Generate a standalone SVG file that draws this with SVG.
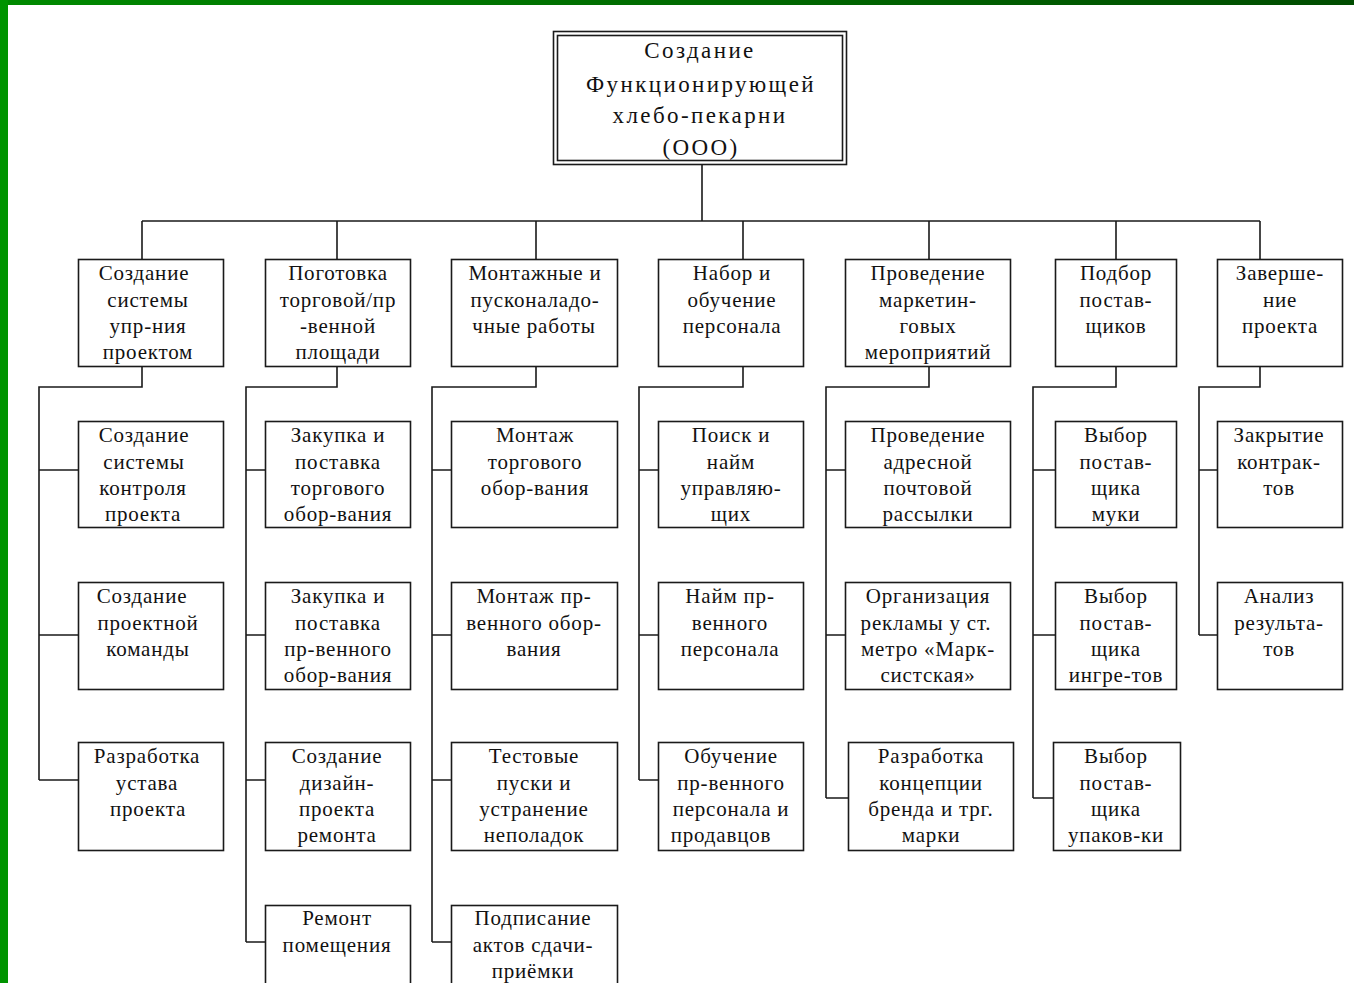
<svg xmlns="http://www.w3.org/2000/svg" width="1354" height="983" viewBox="0 0 1354 983">
<defs>
<linearGradient id="gtop" x1="0" y1="0" x2="1" y2="0">
<stop offset="0" stop-color="#008a00"/>
<stop offset="1" stop-color="#004c00"/>
</linearGradient>
<style>
.b{fill:#fff;stroke:#1a1a1a;stroke-width:1.6}
.c{fill:none;stroke:#1a1a1a;stroke-width:1.6}
text{font-family:"Liberation Serif","DejaVu Serif",serif;font-size:21px;fill:#111;text-anchor:middle;letter-spacing:0.8px}
.r{font-size:23px;letter-spacing:2.4px}
</style>
</defs>
<rect x="0" y="0" width="1354" height="983" fill="#fff"/>
<rect x="0" y="0" width="1354" height="5" fill="url(#gtop)"/>
<rect x="0" y="0" width="8" height="983" fill="#009400"/>

<g id="connectors">
<path class="c" d="M702 164V221M142 221H1260M142 221V259M337 221V259M536 221V259M743 221V259M929 221V259M1116 221V259M1260 221V259"/>
<path class="c" d="M142 366V387H39V780M39 470H78M39 635H78M39 780H78"/>
<path class="c" d="M337 366V387H246V942M246 470H265M246 635H265M246 780H265M246 942H265"/>
<path class="c" d="M536 366V387H432V942M432 470H451M432 635H451M432 780H451M432 942H451"/>
<path class="c" d="M743 366V387H639V780M639 470H658M639 635H658M639 780H658"/>
<path class="c" d="M929 366V387H826V798M826 470H845M826 635H845M826 798H848"/>
<path class="c" d="M1116 366V387H1033V798M1033 470H1055M1033 635H1055M1033 798H1053"/>
<path class="c" d="M1260 366V387H1199V635M1199 470H1217M1199 635H1217"/>
</g>

<g id="root">
<rect class="b" x="553.5" y="31.5" width="293" height="133"/>
<rect class="c" x="557.5" y="35.5" width="285" height="125"/>
<text class="r" x="700" y="58">Создание</text>
<text class="r" x="701" y="92">Функционирующей</text>
<text class="r" x="700" y="123">хлебо-пекарни</text>
<text class="r" x="701" y="155">(ООО)</text>
</g>

<g id="n1">
<rect class="b" x="78.5" y="259.5" width="145" height="107"/>
<text x="144" y="280">Создание</text><text x="148" y="307">системы</text><text x="148" y="333">упр-ния</text><text x="148" y="359">проектом</text>
</g>
<g id="n2">
<rect class="b" x="265.5" y="259.5" width="145" height="107"/>
<text x="338" y="280">Поготовка</text><text x="338" y="307">торговой/пр</text><text x="338" y="333">-венной</text><text x="338" y="359">площади</text>
</g>
<g id="n3">
<rect class="b" x="451.5" y="259.5" width="166" height="107"/>
<text x="535" y="280">Монтажные и</text><text x="535" y="307">пусконаладо-</text><text x="534" y="333">чные работы</text>
</g>
<g id="n4">
<rect class="b" x="658.5" y="259.5" width="145" height="107"/>
<text x="732" y="280">Набор и</text><text x="732" y="307">обучение</text><text x="732" y="333">персонала</text>
</g>
<g id="n5">
<rect class="b" x="845.5" y="259.5" width="165" height="107"/>
<text x="928" y="280">Проведение</text><text x="928" y="307">маркетин-</text><text x="928" y="333">говых</text><text x="928" y="359">мероприятий</text>
</g>
<g id="n6">
<rect class="b" x="1055.5" y="259.5" width="121" height="107"/>
<text x="1116" y="280">Подбор</text><text x="1116" y="307">постав-</text><text x="1116" y="333">щиков</text>
</g>
<g id="n7">
<rect class="b" x="1217.5" y="259.5" width="125" height="107"/>
<text x="1280" y="280">Заверше-</text><text x="1280" y="307">ние</text><text x="1280" y="333">проекта</text>
</g>

<g id="n1a">
<rect class="b" x="78.5" y="421.5" width="145" height="106"/>
<text x="144" y="442">Создание</text><text x="144" y="469">системы</text><text x="143" y="495">контроля</text><text x="143" y="521">проекта</text>
</g>
<g id="n1b">
<rect class="b" x="78.5" y="582.5" width="145" height="107"/>
<text x="142" y="603">Создание</text><text x="148" y="630">проектной</text><text x="148" y="656">команды</text>
</g>
<g id="n1c">
<rect class="b" x="78.5" y="742.5" width="145" height="108"/>
<text x="147" y="763">Разработка</text><text x="147" y="790">устава</text><text x="148" y="816">проекта</text>
</g>

<g id="n2a">
<rect class="b" x="265.5" y="421.5" width="145" height="106"/>
<text x="338" y="442">Закупка и</text><text x="338" y="469">поставка</text><text x="338" y="495">торгового</text><text x="338" y="521">обор-вания</text>
</g>
<g id="n2b">
<rect class="b" x="265.5" y="582.5" width="145" height="107"/>
<text x="338" y="603">Закупка и</text><text x="338" y="630">поставка</text><text x="338" y="656">пр-венного</text><text x="338" y="682">обор-вания</text>
</g>
<g id="n2c">
<rect class="b" x="265.5" y="742.5" width="145" height="108"/>
<text x="337" y="763">Создание</text><text x="337" y="790">дизайн-</text><text x="337" y="816">проекта</text><text x="337" y="842">ремонта</text>
</g>
<g id="n2d">
<rect class="b" x="265.5" y="905.5" width="145" height="90"/>
<text x="337" y="925">Ремонт</text><text x="337" y="952">помещения</text>
</g>

<g id="n3a">
<rect class="b" x="451.5" y="421.5" width="166" height="106"/>
<text x="535" y="442">Монтаж</text><text x="535" y="469">торгового</text><text x="535" y="495">обор-вания</text>
</g>
<g id="n3b">
<rect class="b" x="451.5" y="582.5" width="166" height="107"/>
<text x="534" y="603">Монтаж пр-</text><text x="534" y="630">венного обор-</text><text x="534" y="656">вания</text>
</g>
<g id="n3c">
<rect class="b" x="451.5" y="742.5" width="166" height="108"/>
<text x="534" y="763">Тестовые</text><text x="534" y="790">пуски и</text><text x="534" y="816">устранение</text><text x="534" y="842">неполадок</text>
</g>
<g id="n3d">
<rect class="b" x="451.5" y="905.5" width="166" height="90"/>
<text x="533" y="925">Подписание</text><text x="533" y="952">актов сдачи-</text><text x="533" y="978">приёмки</text>
</g>

<g id="n4a">
<rect class="b" x="658.5" y="421.5" width="145" height="106"/>
<text x="731" y="442">Поиск и</text><text x="731" y="469">найм</text><text x="731" y="495">управляю-</text><text x="731" y="521">щих</text>
</g>
<g id="n4b">
<rect class="b" x="658.5" y="582.5" width="145" height="107"/>
<text x="730" y="603">Найм пр-</text><text x="730" y="630">венного</text><text x="730" y="656">персонала</text>
</g>
<g id="n4c">
<rect class="b" x="658.5" y="742.5" width="145" height="108"/>
<text x="731" y="763">Обучение</text><text x="731" y="790">пр-венного</text><text x="731" y="816">персонала и</text><text x="721" y="842">продавцов</text>
</g>

<g id="n5a">
<rect class="b" x="845.5" y="421.5" width="165" height="106"/>
<text x="928" y="442">Проведение</text><text x="928" y="469">адресной</text><text x="928" y="495">почтовой</text><text x="928" y="521">рассылки</text>
</g>
<g id="n5b">
<rect class="b" x="845.5" y="582.5" width="165" height="107"/>
<text x="928" y="603">Организация</text><text x="926" y="630">рекламы у ст.</text><text x="928" y="656">метро «Марк-</text><text x="928" y="682">систская»</text>
</g>
<g id="n5c">
<rect class="b" x="848.5" y="742.5" width="165" height="108"/>
<text x="931" y="763">Разработка</text><text x="931" y="790">концепции</text><text x="931" y="816">бренда и трг.</text><text x="931" y="842">марки</text>
</g>

<g id="n6a">
<rect class="b" x="1055.5" y="421.5" width="121" height="106"/>
<text x="1116" y="442">Выбор</text><text x="1116" y="469">постав-</text><text x="1116" y="495">щика</text><text x="1116" y="521">муки</text>
</g>
<g id="n6b">
<rect class="b" x="1055.5" y="582.5" width="121" height="107"/>
<text x="1116" y="603">Выбор</text><text x="1116" y="630">постав-</text><text x="1116" y="656">щика</text><text x="1116" y="682">ингре-тов</text>
</g>
<g id="n6c">
<rect class="b" x="1053.5" y="742.5" width="127" height="108"/>
<text x="1116" y="763">Выбор</text><text x="1116" y="790">постав-</text><text x="1116" y="816">щика</text><text x="1116" y="842">упаков-ки</text>
</g>

<g id="n7a">
<rect class="b" x="1217.5" y="421.5" width="125" height="106"/>
<text x="1279" y="442">Закрытие</text><text x="1279" y="469">контрак-</text><text x="1279" y="495">тов</text>
</g>
<g id="n7b">
<rect class="b" x="1217.5" y="582.5" width="125" height="107"/>
<text x="1279" y="603">Анализ</text><text x="1279" y="630">результа-</text><text x="1279" y="656">тов</text>
</g>
</svg>
